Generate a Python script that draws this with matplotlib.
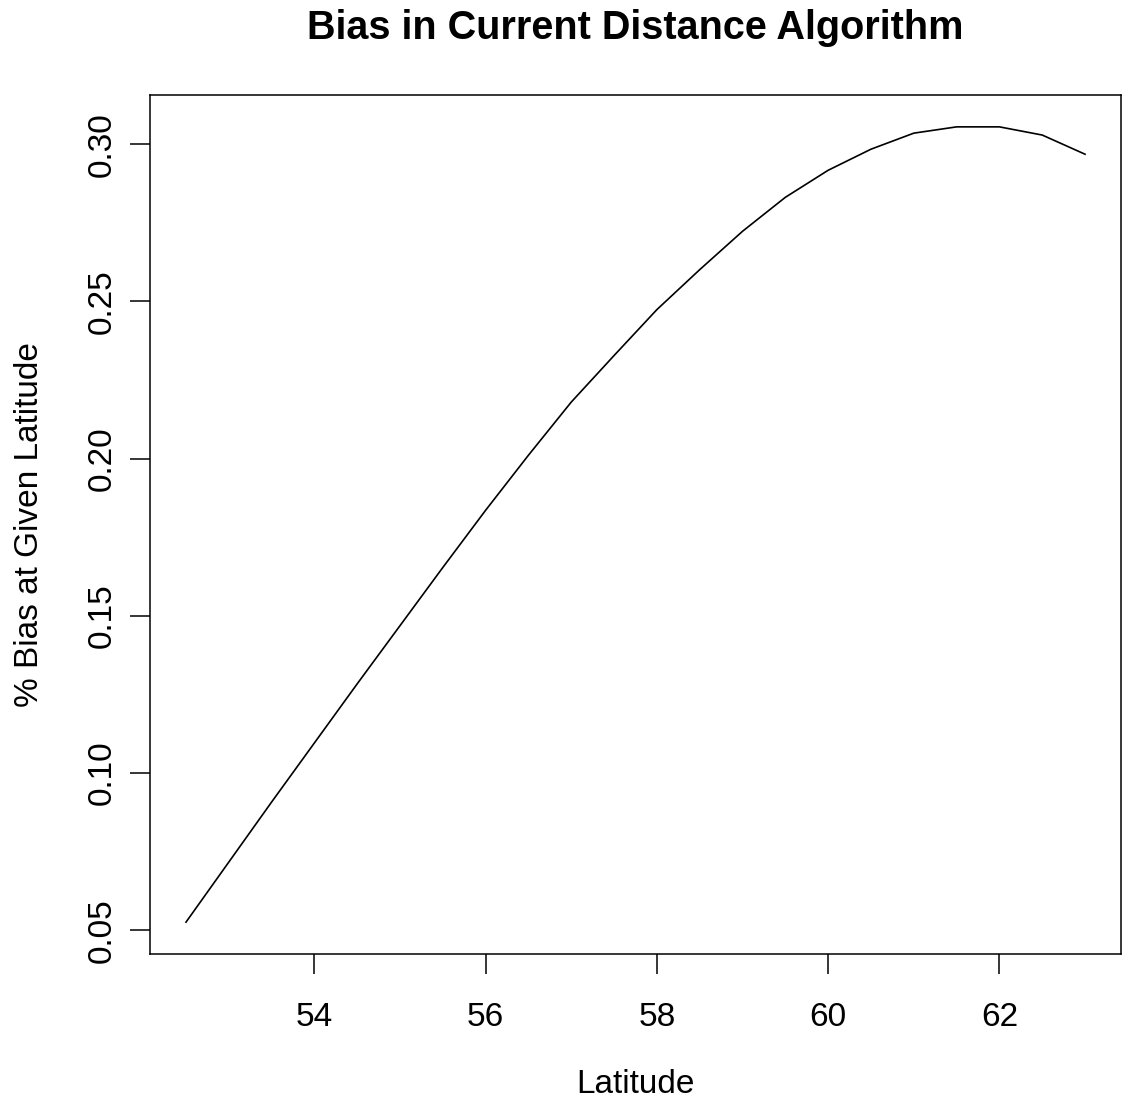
import numpy as np
import matplotlib
matplotlib.use("Agg")
import matplotlib.pyplot as plt

plt.rcParams['font.family'] = ['Liberation Sans', 'DejaVu Sans']

# latitude and % bias
latitude = [52.5, 53.0, 53.5, 54.0, 54.5, 55.0, 55.5, 56.0, 56.5, 57.0, 57.5,
            58.0, 58.5, 59.0, 59.5, 60.0, 60.5, 61.0, 61.5, 62.0, 62.5, 63.0]
bias = [0.0526, 0.0717, 0.0908, 0.1096, 0.1284, 0.1469, 0.1654, 0.1836,
        0.2011, 0.2180, 0.2328, 0.2474, 0.2601, 0.2723, 0.2831, 0.2917,
        0.2984, 0.3035, 0.3055, 0.3055, 0.3029, 0.2968]
x_ticks = [54, 56, 58, 60, 62]
y_ticks = [0.05, 0.10, 0.15, 0.20, 0.25, 0.30]

fig = plt.figure(figsize=(11.28, 11.04), dpi=100)
ax = fig.add_axes([0.133, 0.1359, 0.8608, 0.778])

ax.plot(latitude, bias, color='black', lw=1.2)

# R style 4% padding
xr = max(latitude) - min(latitude)
yr = max(bias) - min(bias)
ax.set_xlim(min(latitude) - 0.04*xr, max(latitude) + 0.04*xr)
ax.set_ylim(min(bias) - 0.04*yr, max(bias) + 0.04*yr)

ax.set_xticks(x_ticks)
ax.set_xticklabels([str(t) for t in x_ticks])
ax.set_yticks(y_ticks)
ax.set_yticklabels(['%.2f' % t for t in y_ticks], rotation=90, va='center')

ax.tick_params(direction='out', length=14.5, width=1.1, labelsize=24, color='black')
ax.tick_params(axis='x', pad=20)
ax.tick_params(axis='y', pad=9)
for s in ax.spines.values():
    s.set_linewidth(1.1)

ax.set_xlabel('Latitude', fontsize=24, labelpad=26)
ax.set_ylabel('% Bias at Given Latitude', fontsize=24, labelpad=30)
ax.set_title('Bias in Current Distance Algorithm', fontsize=28.5, fontweight='bold', pad=40)

fig.savefig("out.png", dpi=100)
